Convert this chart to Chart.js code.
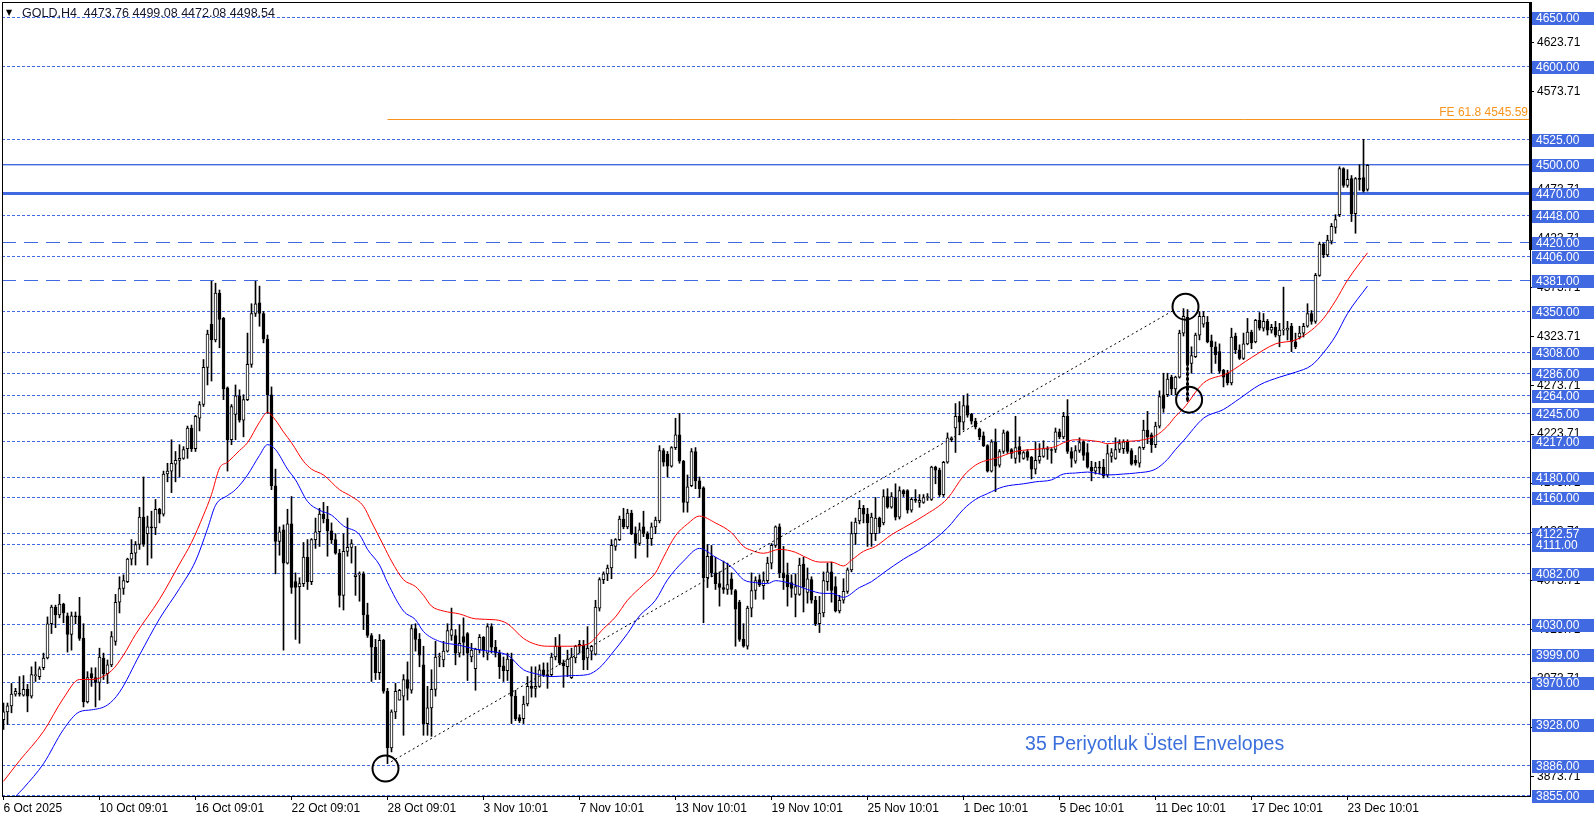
<!DOCTYPE html>
<html>
<head>
<meta charset="utf-8">
<title>GOLD,H4</title>
<script src="https://cdn.jsdelivr.net/npm/chart.js@4.4.1/dist/chart.umd.min.js"></script>
<style>
  html, body { margin: 0; padding: 0; background: #fff; overflow: hidden; }
  canvas { display: block; }
</style>
</head>
<body>
<canvas id="chart" width="1594" height="820"></canvas>
<script>
// H4 candles (bar 0 = 6 Oct 2025)
const opens = [
  3932,3940,3946,3958,3959,3957,3963,3956,3977,3976,
  3985,3995,4030,4047,4039,4050,4038,4019,4038,4038,
  4015,3950,3979,3975,3970,3995,3979,3988,4012,4052,
  4066,4073,4096,4102,4111,4139,4122,4129,4128,4147,
  4142,4183,4186,4193,4197,4199,4209,4230,4209,4240,
  4254,4292,4336,4320,4368,4342,4271,4218,4244,4263,
  4238,4259,4295,4347,4358,4347,4321,4264,4171,4114,
  4126,4092,4132,4073,4068,4071,4098,4073,4116,4124,
  4142,4137,4125,4116,4102,4059,4104,4108,4078,4080,
  4081,4039,4018,4006,3980,4013,3961,3903,3940,3952,
  3956,3973,3962,4025,4014,3988,3928,3944,3963,3996,
  3993,4002,4018,4018,4000,4017,4020,3996,3984,4003,
  4016,4000,4027,4006,4000,3987,3982,3994,3956,3934,
  3933,3948,3966,3964,3966,3983,3978,3978,3996,4007,
  3990,3986,3975,3995,4007,4008,3995,4002,3999,4046,
  4075,4081,4087,4109,4116,4137,4129,4143,4122,4112,
  4129,4122,4117,4129,4135,4207,4203,4191,4210,4223,
  4196,4154,4171,4206,4176,4169,4077,4099,4082,4071,
  4067,4065,4076,4064,4052,4014,4007,4046,4064,4075,
  4069,4074,4092,4110,4129,4082,4080,4072,4060,4060,
  4091,4062,4075,4054,4030,4041,4073,4083,4068,4043,
  4054,4063,4085,4122,4135,4148,4142,4122,4122,4138,
  4133,4160,4149,4159,4139,4166,4166,4146,4157,4154,
  4154,4159,4157,4190,4187,4162,4195,4218,4230,4242,
  4236,4253,4244,4237,4229,4222,4212,4186,4216,4192,
  4206,4226,4208,4199,4211,4199,4206,4200,4188,4197,
  4201,4209,4208,4208,4226,4221,4242,4206,4196,4207,
  4216,4205,4190,4186,4190,4190,4182,4201,4199,4208,
  4209,4216,4207,4197,4194,4210,4228,4223,4213,4232,
  4264,4264,4282,4270,4282,4327,4343,4296,4303,4325,
  4336,4338,4319,4313,4308,4289,4286,4276,4324,4310,
  4301,4316,4328,4318,4340,4332,4339,4330,4333,4324,
  4330,4330,4334,4318,4323,4327,4334,4347,4339,4386,
  4418,4407,4421,4435,4448,4495,4478,4485,4449,4485,
  4486,4473.76
];
const highs = [
  3949,3949,3969,3964,3976,3977,3968,3986,3991,3986,
  4000,4037,4049,4049,4060,4051,4041,4042,4042,4057,
  4030,3981,3985,3985,4005,4000,3993,4022,4060,4078,
  4080,4097,4116,4114,4149,4180,4140,4145,4157,4148,
  4186,4194,4218,4206,4213,4211,4232,4233,4243,4257,
  4300,4330,4380,4378,4371,4343,4272,4254,4274,4269,
  4264,4327,4357,4380,4375,4349,4325,4272,4188,4129,
  4131,4147,4160,4082,4077,4113,4116,4117,4138,4148,
  4154,4150,4133,4122,4106,4122,4138,4116,4109,4083,
  4083,4051,4020,4014,4019,4014,3964,3942,3969,3963,
  3978,3991,4029,4030,4020,4007,3966,3983,4012,4000,
  4012,4030,4046,4024,4029,4036,4021,4010,4005,4019,
  4017,4030,4030,4013,4003,3996,4000,4000,3962,3937,
  3956,3976,3986,3986,3988,3990,3990,4000,4016,4019,
  3993,4003,4005,4008,4013,4013,4027,4008,4054,4077,
  4083,4090,4116,4117,4140,4148,4147,4146,4129,4133,
  4145,4124,4133,4139,4212,4209,4206,4211,4240,4245,
  4197,4182,4209,4210,4180,4170,4111,4110,4098,4083,
  4094,4092,4082,4065,4054,4030,4048,4082,4078,4080,
  4083,4098,4112,4130,4132,4109,4092,4080,4081,4097,
  4098,4087,4078,4058,4058,4083,4092,4093,4078,4059,
  4076,4087,4134,4138,4156,4151,4148,4143,4159,4139,
  4167,4168,4164,4173,4170,4167,4167,4159,4167,4162,
  4162,4163,4191,4191,4189,4196,4225,4221,4255,4257,
  4263,4265,4245,4240,4230,4226,4213,4218,4229,4208,
  4228,4227,4209,4242,4221,4206,4208,4201,4216,4214,
  4217,4211,4209,4230,4229,4246,4259,4210,4212,4220,
  4217,4214,4196,4195,4196,4198,4213,4209,4220,4218,
  4218,4218,4209,4202,4211,4238,4247,4225,4236,4268,
  4286,4286,4284,4283,4330,4352,4351,4313,4327,4349,
  4349,4344,4325,4318,4316,4290,4289,4332,4327,4315,
  4327,4342,4330,4341,4348,4347,4341,4336,4339,4337,
  4374,4339,4337,4327,4334,4337,4357,4350,4388,4420,
  4419,4427,4439,4448,4497,4496,4494,4488,4486,4499,
  4525,4499.08
];
const lows = [
  3922,3927,3939,3956,3956,3956,3940,3954,3971,3973,
  3983,3994,4020,4026,4036,4031,4001,4003,4030,4013,
  3945,3949,3966,3945,3952,3973,3969,3986,4008,4041,
  4060,4072,4090,4090,4106,4109,4090,4097,4121,4133,
  4140,4175,4164,4175,4180,4198,4199,4206,4206,4227,
  4252,4274,4278,4318,4312,4259,4186,4213,4218,4236,
  4221,4258,4292,4344,4334,4317,4245,4167,4081,4100,
  4003,4091,4061,4014,4010,4068,4065,4070,4107,4109,
  4133,4099,4112,4101,4047,4044,4099,4092,4059,4053,
  4024,4016,3971,3973,3973,3959,3887,3899,3933,3952,
  3916,3952,3959,4002,3986,3916,3916,3915,3956,3986,
  3986,4001,4013,3988,3996,3998,3972,3991,3962,4000,
  3996,3993,4000,3996,3974,3971,3972,3928,3931,3929,
  3928,3946,3955,3955,3965,3976,3964,3976,3993,3988,
  3965,3976,3974,3990,4000,3983,3983,3993,3998,4043,
  4071,4074,4076,4105,4115,4127,4127,4121,4097,4110,
  4119,4098,4110,4122,4133,4191,4180,4190,4208,4194,
  4144,4144,4170,4168,4159,4031,4067,4078,4065,4048,
  4061,4060,4060,4007,4012,4006,4004,4037,4055,4068,
  4055,4072,4086,4108,4077,4065,4048,4057,4037,4059,
  4042,4051,4051,4028,4021,4037,4064,4052,4042,4041,
  4051,4061,4083,4111,4132,4133,4109,4109,4115,4123,
  4131,4148,4148,4136,4137,4160,4143,4144,4154,4149,
  4153,4156,4156,4173,4160,4160,4194,4216,4205,4223,
  4228,4241,4234,4229,4218,4211,4185,4185,4165,4190,
  4204,4204,4199,4194,4195,4198,4197,4178,4183,4194,
  4200,4198,4194,4205,4219,4219,4204,4190,4194,4205,
  4197,4189,4176,4183,4183,4179,4180,4195,4198,4205,
  4204,4204,4192,4192,4190,4208,4214,4205,4210,4230,
  4246,4262,4264,4264,4281,4324,4257,4286,4302,4320,
  4333,4317,4286,4296,4286,4272,4274,4274,4306,4300,
  4300,4315,4311,4317,4330,4329,4325,4327,4323,4313,
  4325,4320,4308,4311,4321,4323,4333,4336,4337,4385,
  4404,4405,4418,4429,4446,4476,4476,4441,4429,4473,
  4471,4472.08
];
const closes = [
  3940,3946,3958,3961,3958,3963,3956,3978,3978,3984,
  3995,4030,4047,4039,4050,4041,4019,4038,4037,4015,
  3950,3975,3975,3970,3996,3979,3988,4017,4052,4066,
  4074,4096,4102,4111,4139,4111,4129,4128,4147,4142,
  4183,4186,4194,4197,4199,4208,4230,4209,4242,4254,
  4292,4326,4320,4368,4341,4270,4218,4252,4263,4238,
  4259,4295,4347,4357,4347,4321,4264,4171,4114,4124,
  4092,4132,4067,4067,4071,4098,4073,4116,4124,4142,
  4137,4125,4116,4102,4059,4104,4108,4112,4080,4081,
  4039,4018,4006,3980,4013,3961,3903,3940,3961,3962,
  3973,3964,4025,4014,3998,3928,3944,3963,3996,3997,
  4002,4023,4024,4000,4010,4011,4000,4003,4004,4016,
  4003,4027,4006,4000,3986,3982,3994,3956,3933,3931,
  3948,3966,3964,3966,3983,3978,3977,3996,4007,3990,
  3987,3994,3996,4007,4009,3993,4005,4007,4047,4075,
  4081,4087,4110,4116,4137,4129,4143,4122,4112,4126,
  4122,4117,4129,4136,4207,4195,4191,4210,4223,4196,
  4154,4170,4206,4176,4168,4077,4099,4082,4071,4067,
  4065,4070,4065,4045,4014,4007,4046,4064,4074,4070,
  4074,4092,4110,4129,4082,4077,4068,4066,4068,4090,
  4068,4076,4054,4030,4041,4074,4083,4064,4043,4054,
  4063,4085,4122,4134,4148,4142,4133,4139,4138,4129,
  4160,4149,4160,4139,4166,4163,4146,4157,4156,4156,
  4159,4160,4190,4187,4162,4195,4220,4220,4242,4236,
  4253,4243,4237,4231,4221,4212,4186,4216,4191,4206,
  4225,4206,4204,4210,4203,4205,4200,4188,4197,4201,
  4209,4208,4207,4226,4221,4242,4206,4199,4207,4215,
  4202,4190,4186,4190,4189,4181,4204,4205,4208,4214,
  4216,4206,4193,4194,4210,4228,4221,4213,4232,4262,
  4250,4280,4270,4282,4327,4344,4296,4304,4325,4344,
  4344,4318,4313,4305,4288,4282,4276,4323,4310,4301,
  4316,4328,4317,4340,4332,4339,4330,4333,4325,4330,
  4331,4332,4318,4313,4327,4334,4347,4339,4386,4418,
  4407,4422,4436,4443,4495,4478,4484,4449,4485,4484,
  4472,4498.54
];

// 35 period exponential envelopes, sampled along the drawn lines
const upperBars = [0,4,10,15,19,22,27,30,33,39,44,47,50,52,54,56,59,61,64,66,68,70,72,75,77,80,84,87,90,92,
  95,97,100,103,105,107,110,114,118,123,126,130,133,136,141,146,150,153,156,160,163,165,168,171,174,178,182,185,187,190,
  194,198,200,204,207,210,212,215,218,222,225,230,236,240,243,245,248,253,260,263,265,268,274,276,280,285,288,291,293,295,
  300,306,312,318,323,327,330,333,336,341];
const upperVals = [3869,3890,3920,3954,3973,3973,3982,3998,4019,4055,4091,4113,4141,4162,4189,4195,4207,4215,4236,4246,4238,4226,4215,4196,4188,4182,4167,4160,4150,4134,
  4110,4094,4075,4068,4059,4048,4043,4040,4035,4034,4030,4015,4009,4007,4007,4009,4025,4037,4054,4070,4082,4098,4120,4132,4140,4133,4123,4109,4105,4102,
  4106,4103,4099,4093,4093,4089,4095,4104,4109,4121,4128,4140,4158,4181,4192,4196,4199,4206,4209,4211,4215,4218,4216,4214,4216,4218,4222,4232,4242,4250,
  4276,4286,4302,4316,4320,4330,4342,4360,4381,4409];
const lowerBars = [2,3,5,10,15,19,22,26,29,34,39,44,48,51,53,56,58,61,64,66,68,71,73,76,79,82,85,89,91,94,
  96,100,103,105,109,114,118,123,126,130,133,137,142,146,149,152,156,159,163,166,170,174,178,182,185,188,191,193,196,199,
  201,205,207,210,214,217,220,225,230,236,240,243,246,250,255,258,262,265,268,271,276,280,283,288,291,293,295,300,305,309,
  314,319,323,327,330,333,336,341];
const lowerVals = [3846,3853,3862,3887,3922,3940,3942,3947,3960,3998,4035,4066,4094,4127,4151,4161,4167,4182,4202,4213,4208,4188,4177,4155,4146,4141,4130,4121,4106,4090,
  4072,4043,4034,4022,4012,4008,4004,4001,3998,3983,3979,3976,3977,3978,3985,3999,4020,4038,4054,4075,4094,4107,4098,4088,4075,4072,4071,4074,4072,4068,
  4065,4061,4061,4057,4067,4073,4082,4096,4108,4128,4147,4157,4163,4170,4173,4175,4177,4183,4184,4185,4182,4183,4184,4188,4198,4208,4217,4240,4249,4260,
  4274,4282,4287,4294,4307,4324,4347,4375];

// axis labels
const tickBars = [0,24,48,72,96,120,144,168,192,216,240,264,288,312,336];
const tickLabels = ['6 Oct 2025','10 Oct 09:01','16 Oct 09:01','22 Oct 09:01','28 Oct 09:01','3 Nov 10:01','7 Nov 10:01',
  '13 Nov 10:01','19 Nov 10:01','25 Nov 10:01','1 Dec 10:01','5 Dec 10:01','11 Dec 10:01','17 Dec 10:01','23 Dec 10:01'];
const priceTicks = [4623.71,4573.71,4523.71,4473.71,4423.71,4373.71,4323.71,4273.71,4223.71,4173.71,4123.71,4073.71,4023.71,3973.71,3923.71,3873.71];

// horizontal levels
const levels = [4650,4600,4525,4500,4470,4448,4420,4406,4381,4350,4308,4286,4264,4245,4217,4180,4160,4122.57,4111,4082,4030,3999,3970,3928,3886,3855];
const solidLevels = [4500];
const thickLevels = [4470];
const dashedLevels = [4420,4381];

// drawings
const feLevel = 4545.59;
const feFromBar = 96;
const trendBars = [96.9, 292.4];
const trendPrices = [3889, 4350];
const circleBars = [95.5, 295.5, 296.4];
const circlePrices = [3882, 4354, 4259];
const markBar = 296;
const markPrices = [4343, 4258];
const noteBar = 255.4;
const notePrice = 3906;

const header = 'GOLD,H4  4473.76 4499.08 4472.08 4498.54';
const note = '35 Periyotluk \u00dcstel Envelopes';

const FONT = '"Liberation Sans", Arial, sans-serif';
const ROYAL = '#4169e1';

const bodies = opens.map((o, i) => ({ x: i, y: [o, closes[i]] }));
const wicks = highs.map((h, i) => ({ x: i, y: [lows[i], h] }));
const upper = upperBars.map((b, i) => ({ x: b, y: upperVals[i] }));
const lower = lowerBars.map((b, i) => ({ x: b, y: lowerVals[i] }));

const overlay = {
  id: 'overlay',
  beforeDatasetsDraw(chart) {
    const { ctx, chartArea: a, scales: { x, y } } = chart;
    ctx.save();
    ctx.beginPath();
    ctx.rect(a.left, a.top, a.right - a.left, a.bottom - a.top);
    ctx.clip();
    levels.forEach(v => {
      const py = Math.round(y.getPixelForValue(v)) + 0.5;
      ctx.strokeStyle = ROYAL;
      ctx.lineWidth = 1;
      ctx.setLineDash([]);
      if (thickLevels.includes(v)) {
        ctx.lineWidth = 3;
      } else if (solidLevels.includes(v)) {
        ctx.beginPath();
        ctx.strokeStyle = '#b9c6ee';
        ctx.moveTo(a.left, py + 1); ctx.lineTo(a.right, py + 1);
        ctx.stroke();
        ctx.strokeStyle = ROYAL;
      } else if (dashedLevels.includes(v)) {
        ctx.setLineDash([14, 8]);
      } else {
        ctx.setLineDash([3, 2]);
      }
      ctx.beginPath();
      ctx.moveTo(a.left, py);
      ctx.lineTo(a.right, py);
      ctx.stroke();
    });
    // FE 61.8 line
    const fy = Math.round(y.getPixelForValue(feLevel)) + 0.5;
    ctx.setLineDash([]);
    ctx.lineWidth = 1;
    ctx.strokeStyle = '#f7941d';
    ctx.beginPath();
    ctx.moveTo(x.getPixelForValue(feFromBar), fy);
    ctx.lineTo(a.right, fy);
    ctx.stroke();
    ctx.fillStyle = '#f7941d';
    ctx.font = '12px ' + FONT;
    ctx.textAlign = 'right';
    ctx.textBaseline = 'bottom';
    ctx.fillText('FE 61.8 ' + feLevel.toFixed(2), a.right - 2, fy - 1);
    ctx.restore();
  },
  afterDatasetsDraw(chart) {
    const { ctx, chartArea: a, scales: { x, y } } = chart;
    ctx.save();
    ctx.beginPath();
    ctx.rect(a.left, a.top, a.right - a.left, a.bottom - a.top);
    ctx.clip();
    // dotted trend line
    ctx.strokeStyle = '#000';
    ctx.lineWidth = 1;
    ctx.setLineDash([2, 3]);
    ctx.beginPath();
    ctx.moveTo(x.getPixelForValue(trendBars[0]), y.getPixelForValue(trendPrices[0]));
    ctx.lineTo(x.getPixelForValue(trendBars[1]), y.getPixelForValue(trendPrices[1]));
    ctx.stroke();
    // thick dotted mark through the 11 Dec candle
    ctx.lineWidth = 3;
    ctx.setLineDash([3, 2]);
    ctx.beginPath();
    ctx.moveTo(x.getPixelForValue(markBar), y.getPixelForValue(markPrices[0]));
    ctx.lineTo(x.getPixelForValue(markBar), y.getPixelForValue(markPrices[1]));
    ctx.stroke();
    // circles
    ctx.setLineDash([]);
    ctx.lineWidth = 2;
    circleBars.forEach((b, i) => {
      ctx.beginPath();
      ctx.ellipse(x.getPixelForValue(b), y.getPixelForValue(circlePrices[i]), 13, 13, 0, 0, Math.PI * 2);
      ctx.stroke();
    });
    // note
    ctx.fillStyle = '#3b6fdc';
    ctx.font = '19.5px ' + FONT;
    ctx.textAlign = 'left';
    ctx.textBaseline = 'middle';
    ctx.fillText(note, x.getPixelForValue(noteBar), y.getPixelForValue(notePrice));
    ctx.restore();
  },
  afterDraw(chart) {
    const { ctx, chartArea: a, scales: { y } } = chart;
    ctx.save();
    // frame
    ctx.strokeStyle = '#000';
    ctx.lineWidth = 1;
    ctx.strokeRect(a.left + 0.5, a.top + 0.5, a.right - a.left, a.bottom - a.top);
    ctx.fillStyle = '#000';
    ctx.fillRect(a.right - 1, a.top, 3, 248);
    // level price boxes
    ctx.font = '12px ' + FONT;
    ctx.textAlign = 'left';
    ctx.textBaseline = 'middle';
    levels.forEach(v => {
      const top = Math.round(y.getPixelForValue(v)) - 5;
      ctx.fillStyle = ROYAL;
      ctx.fillRect(a.right + 2, top, chart.width - a.right - 2, 13);
      ctx.fillStyle = '#fff';
      ctx.fillText(v.toFixed(2), a.right + 6, top + 7);
    });
    // header
    ctx.fillStyle = '#000';
    ctx.font = '8px "DejaVu Sans", sans-serif';
    ctx.textBaseline = 'alphabetic';
    ctx.fillText('\u25bc', 6, 15);
    ctx.fillStyle = '#14142a';
    ctx.font = '12.5px ' + FONT;
    ctx.fillText(header, 22, 17);
    ctx.restore();
  }
};

new Chart(document.getElementById('chart'), {
  type: 'bar',
  data: {
    datasets: [
      { type: 'line', data: upper, borderColor: '#ff0000', borderWidth: 1, pointRadius: 0,
        cubicInterpolationMode: 'monotone', order: 0 },
      { type: 'line', data: lower, borderColor: '#0000ff', borderWidth: 1, pointRadius: 0,
        cubicInterpolationMode: 'monotone', order: 0 },
      { data: bodies, barThickness: 3, grouped: false, minBarLength: 1, borderWidth: 1,
        borderSkipped: false, borderColor: '#000',
        backgroundColor: c => closes[c.dataIndex] >= opens[c.dataIndex] ? '#fff' : '#000', order: 1 },
      { data: wicks, barThickness: 1, grouped: false, borderWidth: 0, backgroundColor: '#000', order: 2 }
    ]
  },
  options: {
    responsive: false,
    animation: false,
    events: [],
    layout: { padding: { top: 2, left: 2, right: 0, bottom: 0 } },
    plugins: { legend: { display: false }, tooltip: { enabled: false } },
    scales: {
      x: {
        type: 'linear', min: -0.375, max: 381.625, offset: false,
        afterBuildTicks: s => { s.ticks = tickBars.map(v => ({ value: v })); },
        afterFit: s => { s.height = 24; s.paddingLeft = 0; s.paddingRight = 0; },
        grid: { drawOnChartArea: false, drawTicks: true, tickLength: 4, color: '#000', offset: false },
        border: { display: false },
        ticks: { align: 'start', autoSkip: false, maxRotation: 0, minRotation: 0, padding: 1, color: '#000',
          font: { family: FONT, size: 12 }, callback: v => tickLabels[tickBars.indexOf(v)] }
      },
      y: {
        type: 'linear', position: 'right', min: 3853.97, max: 4665.33,
        afterBuildTicks: s => { s.ticks = priceTicks.map(v => ({ value: v })); },
        afterFit: s => { s.width = 64; s.paddingTop = 0; s.paddingBottom = 0; },
        grid: { drawOnChartArea: false, drawTicks: true, tickLength: 4, color: '#000' },
        border: { display: false },
        ticks: { padding: 3, color: '#000', font: { family: FONT, size: 12 }, callback: v => v.toFixed(2) }
      }
    }
  },
  plugins: [overlay]
});
</script>
</body>
</html>
